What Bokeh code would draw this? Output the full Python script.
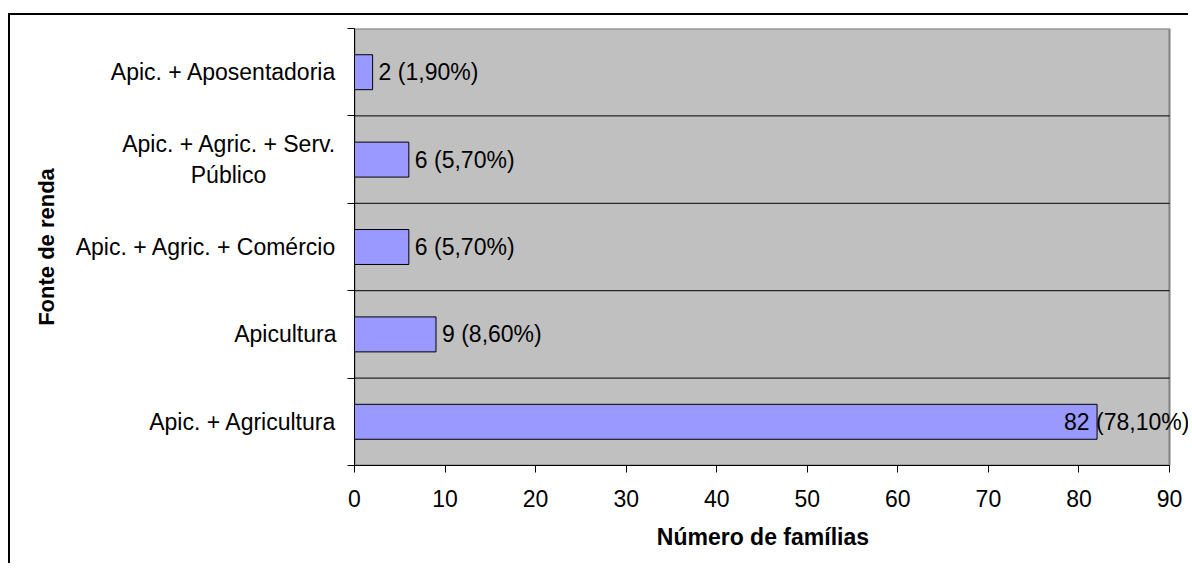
from bokeh.plotting import figure
from bokeh.models import Range1d, FixedTicker, ColumnDataSource, LabelSet, Title
from bokeh.core.properties import value
from bokeh.embed import file_html
from bokeh.resources import INLINE

# ---- data (bottom to top) ----
categories = [
    "Apic. + Agricultura",
    "Apicultura",
    "Apic. + Agric. + Comércio",
    "Apic. + Agric. + Serv.\nPúblico" + "\u00a0" * 11,
    "Apic. + Aposentadoria",
]
counts = [82, 9, 6, 6, 2]
percents = ["78,10%", "8,60%", "5,70%", "5,70%", "1,90%"]
x_ticks = [0, 10, 20, 30, 40, 50, 60, 70, 80, 90]
label_offsets = [-33, 6, 6, 6, 6]

FONT = "Liberation Sans"
n = len(categories)
ys = [i + 0.5 for i in range(n)]
bounds = list(range(n + 1))
labels = [f"{c} ({pc})" for c, pc in zip(counts, percents)]

# layout (pixels)
W, H = 1180, 550
ML, MT = 344, 13
PLOT_W, PLOT_H = 815, 437            # gray plotting area
FRAME_W = W - ML                      # frame extends to right edge (labels may overflow area)
x_end = x_ticks[-1] * FRAME_W / PLOT_W

p = figure(
    width=W, height=H,
    x_range=Range1d(x_ticks[0], x_end),
    y_range=Range1d(0, n),
    output_backend="svg", toolbar_location=None,
    min_border_left=ML, min_border_right=0,
    min_border_top=MT, min_border_bottom=H - MT - PLOT_H,
    margin=(13, 0, 0, 8),
    styles={"border-left": "2px solid black", "border-top": "2px solid black"},
)
p.background_fill_color = "white"
p.border_fill_color = "white"
p.outline_line_color = None
p.xgrid.visible = False
p.ygrid.visible = False

# gray plot area with gray top/right border
p.quad(left=x_ticks[0], right=x_ticks[-1], bottom=0, top=n,
       fill_color="#C0C0C0", line_color="#808080", line_width=2)
# horizontal gridlines at category boundaries
inner = bounds[1:-1]
p.segment(x0=[x_ticks[0]] * len(inner), x1=[x_ticks[-1]] * len(inner),
          y0=inner, y1=inner, line_color="black", line_width=1)

p.hbar(y=ys, left=0, right=counts, height=0.4,
       fill_color="#9999FF", line_color="black", line_width=1)

# x axis
xa = p.xaxis[0]
xa.ticker = FixedTicker(ticks=x_ticks)
xa.bounds = (x_ticks[0], x_ticks[-1])
xa.major_tick_in = 0
xa.major_tick_out = 7
xa.minor_tick_line_color = None
xa.axis_line_color = "black"
xa.major_tick_line_color = "black"
xa.major_label_text_font = FONT
xa.major_label_text_font_size = "23px"
xa.major_label_text_color = "black"
xa.major_label_standoff = 17
# padded so that it is centred on the gray plotting area, not on the wider frame
xa.axis_label = "Número de famílias" + "\u00a0" * 3
xa.axis_label_text_font = FONT
xa.axis_label_text_font_size = "23px"
xa.axis_label_text_font_style = "bold"
xa.axis_label_text_color = "black"
xa.axis_label_standoff = 14

# y axis: labels at centers, ticks at boundaries
ya = p.yaxis[0]
ya.ticker = FixedTicker(ticks=ys, minor_ticks=bounds)
ya.major_label_overrides = {y: c for y, c in zip(ys, categories)}
ya.major_tick_line_color = None
ya.major_tick_in = 0
ya.major_tick_out = 7
ya.minor_tick_in = 0
ya.minor_tick_out = 7
ya.minor_tick_line_color = "black"
ya.axis_line_color = "black"
ya.major_label_text_font = FONT
ya.major_label_text_font_size = "23px"
ya.major_label_text_color = "black"
ya.major_label_standoff = 11

# data labels
src = ColumnDataSource(dict(x=counts, y=ys, text=labels, xo=label_offsets))
p.add_layout(LabelSet(x="x", y="y", text="text", source=src, x_offset="xo",
                      text_font=value(FONT), text_font_size="23px", text_color="black",
                      text_align="left", text_baseline="middle"))

# y title
p.add_layout(Title(text="Fonte de renda", align="center",
                   text_font=FONT, text_font_size="22px", text_font_style="bold",
                   text_color="black", standoff=27), "left")

open("out.html", "w").write(file_html(p, INLINE))
